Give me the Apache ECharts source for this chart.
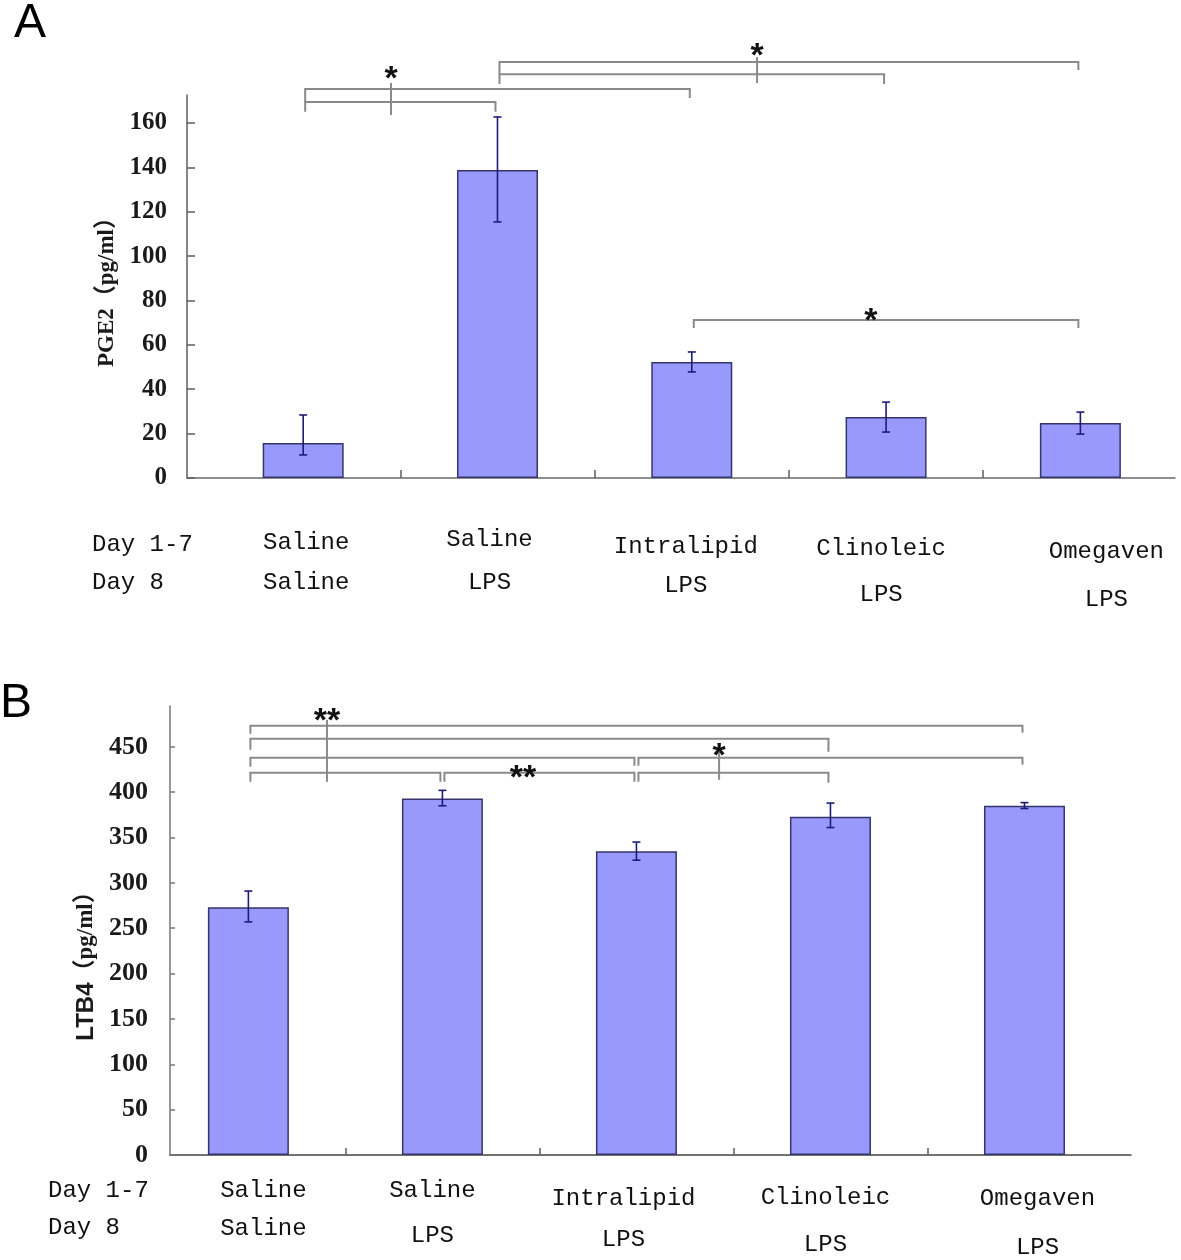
<!DOCTYPE html>
<html><head><meta charset="utf-8">
<script src="https://cdn.jsdelivr.net/npm/echarts@6/dist/echarts.min.js"></script>
<style>html,body{margin:0;padding:0;background:#fff}#c{width:1181px;height:1260px}</style>
</head><body><div id="c"></div>
<script>
// ---------- DATA ----------
const groupsDay17 = ['Saline', 'Saline', 'Intralipid', 'Clinoleic', 'Omegaven'];
const groupsDay8 = ['Saline', 'LPS', 'LPS', 'LPS', 'LPS'];
const rowLabels = ['Day 1-7', 'Day 8'];

const pge2Mean = [15.8, 138.8, 52.3, 27.5, 24.8];
const pge2ErrHigh = [28.4, 162.7, 56.8, 34.2, 29.7];
const pge2ErrLow = [10.4, 115.4, 47.8, 20.7, 19.8];

const ltb4Mean = [273, 393, 335, 373, 385];
const ltb4ErrHigh = [291, 402, 345, 388, 388.5];
const ltb4ErrLow = [257, 385, 325, 361, 382];

const pge2Ticks = [0, 20, 40, 60, 80, 100, 120, 140, 160];
const ltb4Ticks = [0, 50, 100, 150, 200, 250, 300, 350, 400, 450];

// significance brackets: [fromGroup, toGroup, level, leftDropEnd, rightDropEnd]
const pge2Brackets = [
  [1, 2, 169.4, 165.0, 165.0],
  [1, 3, 175.3, 169.4, 171.2],
  [2, 4, 182.0, 177.6, 177.6],
  [2, 5, 187.5, 182.0, 183.9],
  [3, 5, 71.2, 67.6, 67.6]
];
// joiner lines: [x, top, bottom]
const pge2Joins = [[1.452, 178.0, 163.6], [3.336, 189.7, 178.0]];
// star marks: [x, y, text]
const pge2Stars = [[1.452, 183.9, '*'], [3.336, 194.2, '*'], [3.922, 74.8, '*']];

const ltb4Brackets = [
  [1, 5, 473.1, 464.3, 465.4],
  [1, 4, 458.8, 446.7, 444.5],
  [1, 3, 437.9, 427.9, 429.0],
  [3, 5, 437.9, 429.0, 430.1],
  [1, 2, 421.3, 411.4, 411.4],
  [2, 3, 421.3, 411.4, 411.4],
  [3, 4, 421.3, 411.4, 410.3]
];
const ltb4Joins = [[1.405, 479.8, 411.4], [3.426, 444.5, 413.6]];
const ltb4Stars = [[1.405, 488.6, '**'], [2.415, 425.7, '**'], [3.426, 450.5, '*']];

// ---------- LAYOUT (label staggering) ----------
const labelLayoutA = { margin: 40, lh1: [50, 44, 58, 62, 68], lh2: [30, 42, 20, 30, 28], shift: [3, -8, -6, -5, 26] };
const labelLayoutB = { margin: 10, lh1: [52, 52, 68, 66, 68], lh2: [24, 38, 14, 28, 30], shift: [15, -10, -13, -5, 13] };

const AXIS = '#5e5e5e';
const BRACKET = '#8a8a8a';
const MONO = '"Liberation Mono", "DejaVu Sans Mono", monospace';
const SERIF = '"Liberation Serif", "Noto Sans CJK SC", serif';

function buildRich(lay) {
  const rich = {};
  for (let i = 0; i < 5; i++) {
    const s = lay.shift[i];
    const pad = s >= 0 ? [0, 0, 0, 2 * s] : [0, -2 * s, 0, 0];
    rich['t' + i] = { fontFamily: MONO, fontSize: 24, color: '#111', lineHeight: lay.lh1[i], padding: pad };
    rich['b' + i] = { fontFamily: MONO, fontSize: 24, color: '#111', lineHeight: lay.lh2[i], padding: pad };
  }
  return rich;
}
function catFormatter(v) {
  const i = Math.round(v) - 1;
  return '{t' + i + '|' + groupsDay17[i] + '}\n{b' + i + '|' + groupsDay8[i] + '}';
}

function barSeries(xi, means) {
  return {
    type: 'bar', xAxisIndex: xi, yAxisIndex: xi, barWidth: 81,
    data: means.map((v, i) => [i + 1, v]),
    itemStyle: { color: '#9999fb', borderColor: '#35356e', borderWidth: 1.5 },
    silent: true, z: 2
  };
}
function errSeries(xi, lows, highs) {
  return {
    type: 'custom', xAxisIndex: xi, yAxisIndex: xi, silent: true, z: 5, clip: false,
    data: lows.map((lo, i) => [i + 1, lo, highs[i]]),
    renderItem(params, api) {
      const lo = api.coord([api.value(0), api.value(1)]);
      const hi = api.coord([api.value(0), api.value(2)]);
      const w = 4;
      const st = { stroke: '#1c1c78', lineWidth: 1.6 };
      return { type: 'group', children: [
        { type: 'line', shape: { x1: lo[0], y1: lo[1], x2: hi[0], y2: hi[1] }, style: st },
        { type: 'line', shape: { x1: hi[0] - w, y1: hi[1], x2: hi[0] + w, y2: hi[1] }, style: st },
        { type: 'line', shape: { x1: lo[0] - w, y1: lo[1], x2: lo[0] + w, y2: lo[1] }, style: st }
      ] };
    }
  };
}
function bracketSeries(xi, brackets) {
  return {
    type: 'custom', xAxisIndex: xi, yAxisIndex: xi, silent: true, z: 4, clip: false,
    data: brackets,
    renderItem(params, api) {
      const p1 = api.coord([api.value(0), api.value(2)]);
      const p2 = api.coord([api.value(1), api.value(2)]);
      const l = api.coord([api.value(0), api.value(3)]);
      const r = api.coord([api.value(1), api.value(4)]);
      const ins = 2;
      return { type: 'polyline', shape: { points: [[p1[0] + ins, l[1]], [p1[0] + ins, p1[1]], [p2[0] - ins, p2[1]], [p2[0] - ins, r[1]]] },
        style: { stroke: BRACKET, lineWidth: 2, fill: null } };
    }
  };
}
function joinSeries(xi, joins) {
  return {
    type: 'custom', xAxisIndex: xi, yAxisIndex: xi, silent: true, z: 4, clip: false,
    data: joins,
    renderItem(params, api) {
      const a = api.coord([api.value(0), api.value(1)]);
      const b = api.coord([api.value(0), api.value(2)]);
      return { type: 'line', shape: { x1: a[0], y1: a[1], x2: b[0], y2: b[1] }, style: { stroke: BRACKET, lineWidth: 2 } };
    }
  };
}
function starSeries(xi, stars) {
  return {
    type: 'custom', xAxisIndex: xi, yAxisIndex: xi, silent: true, z: 6, clip: false,
    data: stars.map(s => [s[0], s[1]]),
    renderItem(params, api) {
      const p = api.coord([api.value(0), api.value(1)]);
      return { type: 'text', x: p[0], y: p[1] + 10,
        style: { text: stars[params.dataIndex][2], font: 'bold 34px "Liberation Sans", sans-serif', fill: '#111', align: 'center', verticalAlign: 'middle' } };
    }
  };
}

const chart = echarts.init(document.getElementById('c'), null, { renderer: 'canvas' });
chart.setOption({
  backgroundColor: '#fff',
  animation: false,
  grid: [
    { left: 187, right: 6, top: 95, bottom: 782 },
    { left: 170, right: 50, top: 706, bottom: 105 }
  ],
  xAxis: [
    { type: 'value', gridIndex: 0, min: 0.402, max: 5.487, splitLine: { show: false },
      axisLine: { onZero: false, lineStyle: { color: '#6a6a6a', width: 1.5 } },
      axisTick: { show: true, inside: true, length: 8, customValues: [1.5, 2.5, 3.5, 4.5], lineStyle: { color: AXIS, width: 1.5 } },
      axisLabel: { customValues: [1, 2, 3, 4, 5], formatter: catFormatter, margin: labelLayoutA.margin, rich: buildRich(labelLayoutA) } },
    { type: 'value', gridIndex: 1, min: 0.596, max: 5.549, splitLine: { show: false },
      axisLine: { onZero: false, lineStyle: { color: '#444', width: 1.5 } },
      axisTick: { show: true, inside: true, length: 7, customValues: [1.5, 2.5, 3.5, 4.5], lineStyle: { color: AXIS, width: 1.5 } },
      axisLabel: { customValues: [1, 2, 3, 4, 5], formatter: catFormatter, margin: labelLayoutB.margin, rich: buildRich(labelLayoutB) } }
  ],
  yAxis: [
    { type: 'value', gridIndex: 0, min: 0, max: 172.6, splitLine: { show: false },
      axisLine: { show: true, lineStyle: { color: AXIS, width: 1.5 } },
      axisTick: { show: true, inside: true, length: 8, customValues: pge2Ticks, lineStyle: { color: AXIS, width: 1.5 } },
      axisLabel: { customValues: pge2Ticks, margin: 20, fontFamily: SERIF, fontWeight: 'bold', fontSize: 25, color: '#1a1a1a' },
      name: 'PGE2（pg/ml）', nameLocation: 'middle', nameGap: 62,
      nameTextStyle: { fontFamily: SERIF, fontWeight: 'bold', fontSize: 23, color: '#1a1a1a' } },
    { type: 'value', gridIndex: 1, min: 0, max: 495, splitLine: { show: false },
      axisLine: { show: true, lineStyle: { color: '#777', width: 1.5 } },
      axisTick: { show: true, inside: true, length: 5, customValues: ltb4Ticks, lineStyle: { color: '#777', width: 1.5 } },
      axisLabel: { customValues: ltb4Ticks, margin: 22, fontFamily: SERIF, fontWeight: 'bold', fontSize: 26, color: '#1a1a1a' },
      name: '{s|LTB4}{t|（pg/ml）}', nameLocation: 'middle', nameGap: 68,
      nameTextStyle: { padding: [0, 60, 0, 0], rich: {
        s: { fontFamily: '"Liberation Sans", sans-serif', fontWeight: 'bold', fontSize: 24, color: '#1a1a1a' },
        t: { fontFamily: SERIF, fontWeight: 'bold', fontSize: 23, color: '#1a1a1a' } } } }
  ],
  graphic: [
    { type: 'text', x: 14, y: 0, style: { text: 'A', font: '48px "Liberation Sans", sans-serif', fill: '#000' } },
    { type: 'text', x: 0, y: 680, style: { text: 'B', font: '48px "Liberation Sans", sans-serif', fill: '#000' } },
    { type: 'text', x: 92, y: 545, style: { text: rowLabels[0], font: '24px ' + MONO, fill: '#111', verticalAlign: 'middle' } },
    { type: 'text', x: 92, y: 583, style: { text: rowLabels[1], font: '24px ' + MONO, fill: '#111', verticalAlign: 'middle' } },
    { type: 'text', x: 48, y: 1191, style: { text: rowLabels[0], font: '24px ' + MONO, fill: '#111', verticalAlign: 'middle' } },
    { type: 'text', x: 48, y: 1228, style: { text: rowLabels[1], font: '24px ' + MONO, fill: '#111', verticalAlign: 'middle' } }
  ],
  series: [
    barSeries(0, pge2Mean), errSeries(0, pge2ErrLow, pge2ErrHigh),
    bracketSeries(0, pge2Brackets), joinSeries(0, pge2Joins), starSeries(0, pge2Stars),
    barSeries(1, ltb4Mean), errSeries(1, ltb4ErrLow, ltb4ErrHigh),
    bracketSeries(1, ltb4Brackets), joinSeries(1, ltb4Joins), starSeries(1, ltb4Stars)
  ]
});
</script></body></html>
